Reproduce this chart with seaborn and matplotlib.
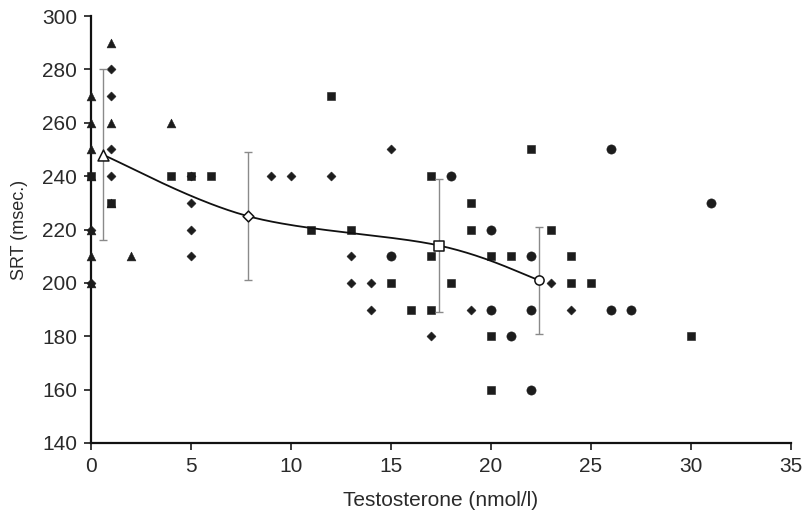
import numpy as np
import pandas as pd
import matplotlib
matplotlib.use("Agg")
import matplotlib.pyplot as plt
import seaborn as sns

# Individual observations per group: testosterone (nmol/l) and SRT (msec.)
tri_x = [0, 0, 0, 0, 0, 0, 0, 1, 1, 1, 2, 4]
tri_y = [270, 260, 250, 240, 220, 210, 200, 290, 260, 230, 210, 260]

dia_x = [0, 0, 1, 1, 1, 1, 5, 5, 5, 5, 9, 10, 12, 13, 13, 14, 14, 15, 17, 19, 23, 24]
dia_y = [220, 200, 280, 270, 250, 240, 240, 230, 220, 210, 240, 240, 240, 210, 200, 200,
         190, 250, 180, 190, 200, 190]

sq_x = [0, 1, 4, 5, 6, 11, 12, 13, 15, 16, 17, 17, 17, 18, 19, 19, 20, 20, 20, 21, 22,
        23, 24, 24, 25, 30]
sq_y = [240, 230, 240, 240, 240, 220, 270, 220, 200, 190, 240, 210, 190, 200, 230, 220,
        210, 180, 160, 210, 250, 220, 210, 200, 200, 180]

circ_x = [15, 18, 20, 20, 21, 22, 22, 22, 26, 26, 27, 31]
circ_y = [210, 240, 220, 190, 180, 210, 190, 160, 250, 190, 190, 230]

# Group means with standard deviations
mean_x = [0.6, 7.85, 17.4, 22.4]
mean_y = [248, 225, 214, 201]
mean_sd = [32, 24, 25, 20]
mean_markers = ["^", "D", "s", "o"]
mean_sizes = [62, 30, 42, 44]

x_ticks = [0, 5, 10, 15, 20, 25, 30, 35]
y_ticks = [140, 160, 180, 200, 220, 240, 260, 280, 300]

sns.set_theme(style="white")
plt.rcParams["font.family"] = ["Liberation Sans", "DejaVu Sans"]

fig = plt.figure(figsize=(8.04, 5.21), dpi=100)
ax = fig.add_axes([0.1132, 0.150, 0.8706, 0.819])

ink = "#1c1c1c"
groups = [
    (tri_x, tri_y, "^", 40),
    (dia_x, dia_y, "D", 21),
    (sq_x, sq_y, "s", 28),
    (circ_x, circ_y, "o", 44),
]
for gx, gy, mk, sz in groups:
    df = pd.DataFrame({"T": gx, "SRT": gy})
    sns.scatterplot(data=df, x="T", y="SRT", marker=mk, s=sz, color=ink,
                    edgecolor=ink, linewidth=0.4, ax=ax, clip_on=False, zorder=3)

# Error bars around the group means
ax.errorbar(mean_x, mean_y, yerr=mean_sd, fmt="none", ecolor="#8a8a8a",
            elinewidth=1.0, capsize=3, capthick=1.0, zorder=4)

# Smoothed connecting curve (cubic Bezier segments through the means)
px = np.array(mean_x, dtype=float)
py = np.array(mean_y, dtype=float)
P = np.column_stack([px, py])
Pext = np.vstack([P[0], P, P[-1]])
curve = []
t = np.linspace(0, 1, 60)[:, None]
for i in range(len(P) - 1):
    p0 = Pext[i + 1]
    p3 = Pext[i + 2]
    c1 = p0 + (Pext[i + 2] - Pext[i]) / 6.0
    c2 = p3 - (Pext[i + 3] - Pext[i + 1]) / 6.0
    seg = ((1 - t) ** 3) * p0 + 3 * ((1 - t) ** 2) * t * c1 + 3 * (1 - t) * t ** 2 * c2 + t ** 3 * p3
    curve.append(seg)
curve = np.vstack(curve)
curve_df = pd.DataFrame({"T": curve[:, 0], "SRT": curve[:, 1]})
sns.lineplot(data=curve_df, x="T", y="SRT", sort=False, estimator=None, color="#111111",
             linewidth=1.3, ax=ax, zorder=5)

for mx, my, mk, sz in zip(mean_x, mean_y, mean_markers, mean_sizes):
    ax.scatter([mx], [my], marker=mk, s=sz, facecolor="white", edgecolor="#111111",
               linewidth=1.1, zorder=6)

ax.set_xlim(0, 35)
ax.set_ylim(140, 300)
ax.set_xticks(x_ticks)
ax.set_yticks(y_ticks)
ax.set_xticklabels([str(v) for v in x_ticks])
ax.set_yticklabels([str(v) for v in y_ticks])
ax.tick_params(axis="both", direction="out", length=5, width=1.2, colors="#1a1a1a",
               labelsize=15, pad=5, left=True, bottom=True)
ax.tick_params(axis="both", labelcolor="#2a2a2a")

for side in ["top", "right"]:
    ax.spines[side].set_visible(False)
for side in ["left", "bottom"]:
    ax.spines[side].set_color("#111111")
    ax.spines[side].set_linewidth(1.6)

ax.set_xlabel("Testosterone (nmol/l)", fontsize=15, color="#2a2a2a", labelpad=11)
ax.set_ylabel("SRT (msec.)", fontsize=13, color="#2a2a2a", labelpad=10)
ax.grid(False)

fig.savefig("out.png", dpi=100, facecolor="white")
